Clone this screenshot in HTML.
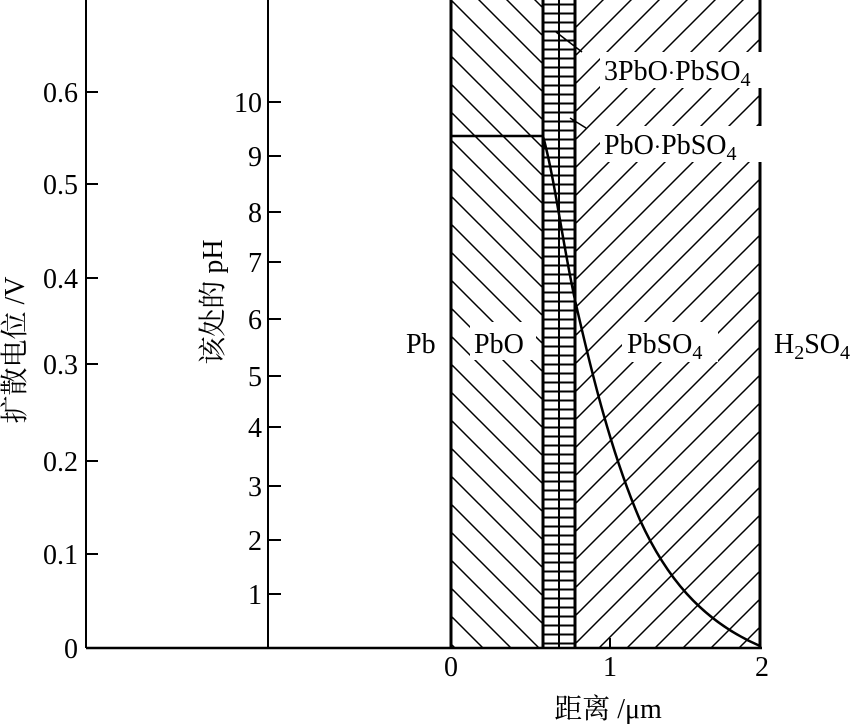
<!DOCTYPE html>
<html><head><meta charset="utf-8"><style>html,body{margin:0;padding:0;background:#fff}svg{display:block}</style></head>
<body>
<svg width="857" height="724" viewBox="0 0 857 724" xmlns="http://www.w3.org/2000/svg" font-family="'Liberation Serif','Noto Serif CJK SC',serif" font-size="28" fill="#000">
<defs>
<pattern id="back" patternUnits="userSpaceOnUse" width="28" height="28" patternTransform="translate(451,0)">
<path d="M-7,-7 L35,35 M-7,21 L7,35 M21,-7 L35,7" stroke="#000" stroke-width="1.5"/>
</pattern>
<pattern id="fwd" patternUnits="userSpaceOnUse" width="28" height="28" patternTransform="translate(575,0)">
<path d="M-7,35 L35,-7 M-7,7 L7,-7 M21,35 L35,21" stroke="#000" stroke-width="1.5"/>
</pattern>
<pattern id="rung" patternUnits="userSpaceOnUse" width="40" height="9">
<path d="M0,4.5 H40" stroke="#000" stroke-width="2"/>
</pattern>
</defs>
<rect x="451" y="0" width="92" height="648" fill="url(#back)"/>
<rect x="575" y="0" width="185" height="648" fill="url(#fwd)"/>
<rect x="543" y="0" width="32" height="648" fill="url(#rung)"/>
<g stroke="#000" stroke-width="3" fill="none">
<line x1="451" y1="0" x2="451" y2="648"/>
<line x1="543" y1="0" x2="543" y2="648"/>
<line x1="559" y1="0" x2="559" y2="648" stroke-width="2"/>
<line x1="575" y1="0" x2="575" y2="648"/>
<line x1="760" y1="0" x2="760" y2="648"/>
<line x1="86" y1="0" x2="86" y2="648" stroke-width="2"/>
<line x1="268" y1="0" x2="268" y2="648" stroke-width="2"/>
<line x1="86" y1="648" x2="762" y2="648" stroke-width="2.5"/>
<line x1="451" y1="136" x2="543" y2="136" stroke-width="2.5"/>
<path d="M543,136 C555,180 562,240 575,300 C592,375 612,455 640,520 C665,575 700,620 760,646" stroke-width="2.5"/>
</g>
<g stroke="#000" stroke-width="2">
<line x1="86" y1="92" x2="98" y2="92"/><line x1="86" y1="184" x2="98" y2="184"/><line x1="86" y1="278" x2="98" y2="278"/><line x1="86" y1="364" x2="98" y2="364"/><line x1="86" y1="461" x2="98" y2="461"/><line x1="86" y1="554" x2="98" y2="554"/>
<line x1="268" y1="102" x2="281" y2="102"/><line x1="268" y1="156" x2="281" y2="156"/><line x1="268" y1="212" x2="281" y2="212"/><line x1="268" y1="262" x2="281" y2="262"/><line x1="268" y1="319" x2="281" y2="319"/><line x1="268" y1="376" x2="281" y2="376"/><line x1="268" y1="427" x2="281" y2="427"/><line x1="268" y1="486" x2="281" y2="486"/><line x1="268" y1="540" x2="281" y2="540"/><line x1="268" y1="594" x2="281" y2="594"/>
<line x1="610" y1="648" x2="610" y2="638"/>
<line x1="556" y1="32" x2="582" y2="52" stroke-width="1.5"/>
<line x1="570" y1="118" x2="586" y2="128" stroke-width="1.5"/>
</g>
<g text-anchor="end">
<text x="78" y="102">0.6</text><text x="78" y="194">0.5</text><text x="78" y="288">0.4</text><text x="78" y="374">0.3</text><text x="78" y="471">0.2</text><text x="78" y="564">0.1</text><text x="78" y="658">0</text>
<text x="262" y="112">10</text><text x="262" y="166">9</text><text x="262" y="222">8</text><text x="262" y="272">7</text><text x="262" y="329">6</text><text x="262" y="386">5</text><text x="262" y="437">4</text><text x="262" y="496">3</text><text x="262" y="550">2</text><text x="262" y="604">1</text>
</g>
<g text-anchor="middle">
<text x="451" y="676">0</text><text x="610" y="676">1</text><text x="762" y="676">2</text>
<text x="608" y="718">距离 /μm</text>
</g>
<text transform="translate(24,350) rotate(-90)" text-anchor="middle">扩散电位 /V</text>
<text transform="translate(222,302) rotate(-90)" text-anchor="middle">该处的 pH</text>
<rect x="600" y="52" width="180" height="36" fill="#fff"/>
<text x="604" y="80">3PbO<tspan font-size="22">·</tspan>PbSO<tspan font-size="20" dy="6">4</tspan></text>
<rect x="600" y="126" width="162" height="36" fill="#fff"/>
<text x="604" y="154">PbO<tspan font-size="22">·</tspan>PbSO<tspan font-size="20" dy="6">4</tspan></text>
<rect x="402" y="322" width="44" height="38" fill="#fff"/>
<text x="406" y="353">Pb</text>
<rect x="470" y="322" width="66" height="38" fill="#fff"/>
<text x="474" y="353">PbO</text>
<rect x="622" y="322" width="96" height="40" fill="#fff"/>
<text x="627" y="353">PbSO<tspan font-size="20" dy="6">4</tspan></text>
<rect x="770" y="322" width="87" height="40" fill="#fff"/>
<text x="774" y="353">H<tspan font-size="20" dy="6">2</tspan><tspan dy="-6">SO</tspan><tspan font-size="20" dy="6">4</tspan></text>
</svg>
</body></html>
